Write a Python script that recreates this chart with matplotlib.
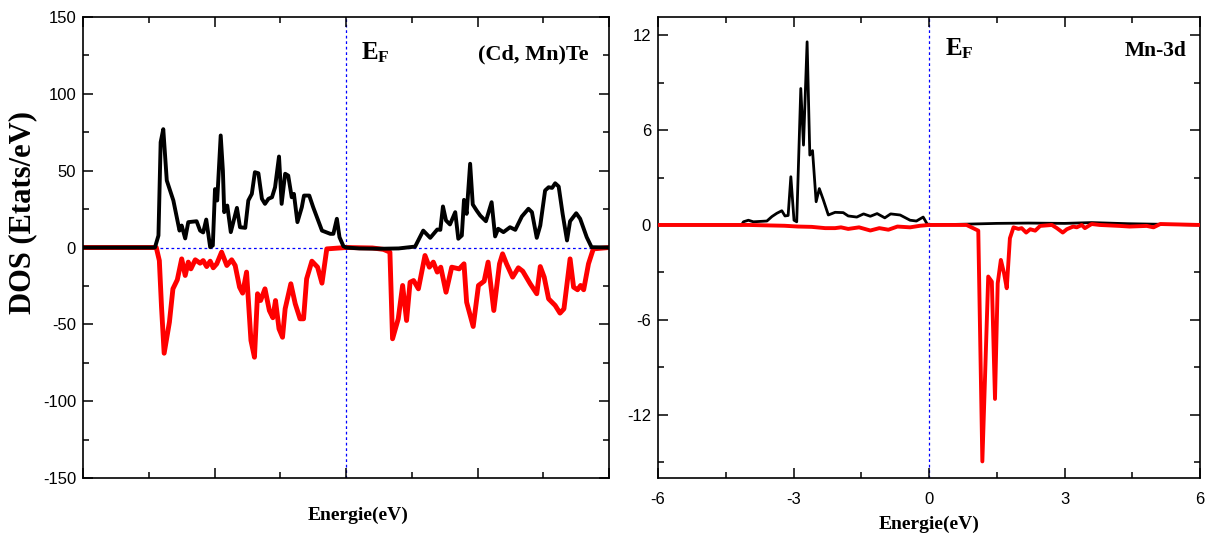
import matplotlib
matplotlib.use("Agg")
import matplotlib.pyplot as plt
from matplotlib.ticker import MultipleLocator, NullFormatter

plt.rcParams["font.family"] = ["Liberation Sans", "DejaVu Sans"]
plt.rcParams["axes.unicode_minus"] = False
plt.rcParams["mathtext.fontset"] = "custom"
plt.rcParams["mathtext.rm"] = "Liberation Serif:bold"
plt.rcParams["mathtext.bf"] = "Liberation Serif:bold"

# ---- total DOS of (Cd, Mn)Te ----
tot_up_e = [-6.0, -4.36, -4.28, -4.23, -4.17, -4.09, -3.94, -3.80, -3.75, -3.67, -3.60,
            -3.41, -3.33, -3.26, -3.19, -3.10, -3.04, -2.99, -2.94, -2.86, -2.81, -2.78,
            -2.71, -2.63, -2.49, -2.42, -2.30, -2.23, -2.15, -2.08, -2.00, -1.92, -1.85,
            -1.77, -1.69, -1.62, -1.53, -1.47, -1.39, -1.32, -1.24, -1.19, -1.11, -1.01,
            -0.96, -0.84, -0.75, -0.55, -0.36, -0.29, -0.21, -0.15, -0.06, 0.0,
            0.3, 0.8, 1.2, 1.575, 1.76, 1.92, 2.08, 2.15, 2.21, 2.28, 2.37, 2.49, 2.56,
            2.64, 2.69, 2.75, 2.83, 2.89, 2.98, 3.06, 3.19, 3.32, 3.40, 3.47, 3.59, 3.74,
            3.86, 4.01, 4.16, 4.24, 4.35, 4.43, 4.54, 4.62, 4.70, 4.77, 4.85, 4.94, 5.04,
            5.11, 5.25, 5.34, 5.49, 5.60, 6.0]
tot_up = [0.0, 0.0, 7.8, 68.5, 77.0, 43.6, 30.6, 11.0, 14.3, 5.9, 16.5,
          17.1, 11.0, 9.8, 18.2, 0.2, 1.3, 38.0, 30.6, 72.9, 50.0, 23.0,
          27.3, 10.0, 25.8, 13.2, 12.8, 30.6, 34.9, 49.0, 48.3, 31.7, 28.4,
          31.7, 32.7, 39.2, 59.2, 28.4, 48.0, 46.8, 32.7, 34.9, 16.5, 26.2,
          33.8, 33.8, 26.2, 11.0, 8.9, 8.9, 18.7, 6.7, 0.8, 0.0,
          -0.6, -0.8, -0.6, 0.6, 11.0, 6.3, 11.7, 11.5, 26.7, 17.6, 15.0, 23.0, 5.7,
          7.8, 31.0, 21.9, 54.5, 28.0, 24.0, 20.8, 17.1, 29.5, 7.2, 12.2, 10.0, 13.2,
          11.5, 20.2, 25.2, 23.0, 6.3, 14.3, 37.1, 39.2, 38.8, 41.8, 39.7, 21.9, 4.6,
          17.1, 22.3, 18.7, 6.7, 0.2, 0.0]

tot_dn_e = [-6.0, -4.33, -4.26, -4.21, -4.15, -4.03, -3.95, -3.85, -3.75, -3.67, -3.60,
            -3.54, -3.44, -3.33, -3.26, -3.18, -3.10, -3.03, -2.95, -2.84, -2.72, -2.61,
            -2.53, -2.43, -2.36, -2.27, -2.17, -2.09, -2.02, -1.95, -1.85, -1.75, -1.67,
            -1.61, -1.53, -1.45, -1.39, -1.26, -1.16, -1.05, -0.97, -0.90, -0.78, -0.65,
            -0.55, -0.44, 0.0, 0.6, 0.85, 1.00, 1.06, 1.19, 1.29, 1.38, 1.46, 1.54, 1.65,
            1.80, 1.90, 1.99, 2.08, 2.16, 2.28, 2.41, 2.58, 2.69, 2.75, 2.90, 3.02, 3.15,
            3.24, 3.37, 3.50, 3.57, 3.66, 3.80, 3.93, 4.03, 4.20, 4.35, 4.43, 4.52, 4.62,
            4.77, 4.88, 4.97, 5.11, 5.19, 5.28, 5.35, 5.42, 5.53, 5.64, 6.0]
tot_dn = [0.0, 0.0, -8.5, -38.8, -68.8, -48.6, -26.9, -21.0, -7.4, -18.2, -9.5,
          -13.9, -8.0, -10.2, -8.5, -12.4, -8.9, -13.2, -10.6, -3.0, -11.7, -8.0,
          -11.7, -25.8, -29.7, -16.0, -60.5, -71.4, -30.1, -34.5, -26.9, -41.0, -45.7,
          -34.5, -52.9, -58.4, -39.9, -23.6, -36.6, -46.4, -46.4, -20.4, -8.9, -12.8,
          -23.2, -0.9, 0.0, -0.3, -1.2, -3.0, -59.4, -46.4, -24.7, -47.5, -22.6, -21.5, -26.9,
          -5.2, -12.8, -9.5, -16.0, -12.8, -29.1, -12.8, -13.9, -10.6, -35.6, -51.4, -24.7, -21.9,
          -9.5, -41.0, -10.6, -4.1, -10.6, -19.3, -13.2, -15.4, -23.6, -30.1, -12.4, -19.3, -33.4,
          -37.7, -42.7, -39.9, -7.4, -25.8, -27.5, -24.7, -27.5, -10.6, -0.9, 0.0]

# ---- Mn-3d partial DOS ----
mn_up_e = [-6.0, -4.15, -4.11, -4.00, -3.89, -3.59, -3.48, -3.37, -3.26, -3.19, -3.12,
           -3.06, -2.99, -2.93, -2.84, -2.78, -2.70, -2.64, -2.58, -2.50, -2.43, -2.34,
           -2.23, -2.08, -1.90, -1.79, -1.60, -1.45, -1.30, -1.15, -0.98, -0.85, -0.64,
           -0.42, -0.28, -0.13, -0.05, 0.0, 0.8, 1.5, 2.2, 3.0, 3.6, 4.4, 5.0, 6.0]
mn_up = [0.0, 0.0, 0.2, 0.3, 0.2, 0.25, 0.53, 0.74, 0.9, 0.57, 0.6,
         3.05, 0.3, 0.2, 8.63, 5.05, 11.58, 4.42, 4.7, 1.47, 2.3, 1.58,
         0.63, 0.8, 0.78, 0.57, 0.5, 0.7, 0.55, 0.72, 0.45, 0.7, 0.63,
         0.3, 0.25, 0.5, 0.1, 0.0, 0.05, 0.1, 0.12, 0.1, 0.15, 0.08, 0.05, 0.0]

mn_dn_e = [-6.0, -4.0, -3.2, -2.9, -2.6, -2.3, -2.08, -1.95, -1.79, -1.55, -1.3, -1.1,
           -0.9, -0.7, -0.42, -0.2, 0.0, 0.83, 1.09, 1.18, 1.31, 1.39, 1.46, 1.52,
           1.59, 1.66, 1.72, 1.79, 1.87, 1.98, 2.05, 2.15, 2.24, 2.35, 2.46, 2.72,
           2.83, 2.96, 3.05, 3.19, 3.27, 3.38, 3.45, 3.60, 3.78, 4.22, 4.44, 4.82,
           4.97, 5.12, 6.0]
mn_dn = [0.0, 0.0, -0.05, -0.1, -0.12, -0.2, -0.2, -0.15, -0.25, -0.15, -0.35, -0.2,
         -0.3, -0.1, -0.15, -0.05, 0.0, 0.0, -0.36, -14.95, -3.26, -3.58, -11.0, -3.69,
         -2.21, -3.05, -4.0, -0.84, -0.15, -0.25, -0.2, -0.48, -0.27, -0.36, -0.06, 0.0,
         -0.2, -0.48, -0.27, -0.1, -0.15, 0.0, -0.2, 0.06, 0.0, -0.06, -0.1, -0.06,
         -0.15, 0.06, 0.0]

e_range = (-6, 6)
energy_ticks = [-6, -3, 0, 3, 6]

fig = plt.figure(figsize=(12.09, 5.38), dpi=100)
ax1 = fig.add_axes([0.0687, 0.1115, 0.4351, 0.8569])
ax2 = fig.add_axes([0.5443, 0.1115, 0.4483, 0.8569])

serif_bold = dict(family=["Liberation Serif", "DejaVu Serif"], weight="bold")
fermi_style = dict(color="blue", lw=0.9, linestyle=(0, (2.2, 2.2)))


def style_axes(ax):
    for sp in ax.spines.values():
        sp.set_linewidth(1.2)
    ax.tick_params(which="both", direction="in", top=True, right=True, width=1.1,
                   labelsize=12, pad=5)
    ax.tick_params(which="major", length=7)
    ax.tick_params(which="minor", length=4)
    ax.set_xlim(*e_range)
    ax.xaxis.set_major_locator(MultipleLocator(3))
    ax.xaxis.set_minor_locator(MultipleLocator(1.5))


# left panel: total DOS
ax1.axhline(0, **fermi_style, zorder=1)
ax1.axvline(0, **fermi_style, zorder=1)
ax1.plot(tot_dn_e, tot_dn, color="red", lw=3.5, solid_joinstyle="round", zorder=2)
ax1.plot(tot_up_e, tot_up, color="black", lw=2.8, solid_joinstyle="round", zorder=3)
style_axes(ax1)
ax1.set_ylim(-150, 150)
ax1.yaxis.set_major_locator(MultipleLocator(50))
ax1.yaxis.set_minor_locator(MultipleLocator(25))
ax1.xaxis.set_major_formatter(NullFormatter())
ax1.set_ylabel("DOS (Etats/eV)", fontsize=22, **serif_bold)
ax1.yaxis.set_label_coords(-0.087, 0.577)
ax1.set_xlabel("Energie(eV)", fontsize=14, **serif_bold)
ax1.xaxis.set_label_coords(0.523, -0.063)
ax1.text(0.528, 0.95, r"$\mathbf{E_F}$", transform=ax1.transAxes, fontsize=18,
         ha="left", va="top")
ax1.text(0.962, 0.94, "(Cd, Mn)Te", transform=ax1.transAxes, fontsize=16,
         ha="right", va="top", **serif_bold)

# right panel: Mn-3d
ax2.axvline(0, **fermi_style, zorder=1)
ax2.plot(mn_up_e, mn_up, color="black", lw=2.0, solid_joinstyle="round", zorder=2)
ax2.plot(mn_dn_e, mn_dn, color="red", lw=2.8, solid_joinstyle="round", zorder=3)
style_axes(ax2)
ax2.tick_params(axis="x", which="both", pad=10)
ax2.set_ylim(-16, 13.15)
ax2.yaxis.set_major_locator(MultipleLocator(6))
ax2.yaxis.set_minor_locator(MultipleLocator(3))
ax2.set_xticks(energy_ticks)
ax2.set_xlabel("Energie(eV)", fontsize=14, labelpad=6, **serif_bold)
ax2.text(0.53, 0.958, r"$\mathbf{E_F}$", transform=ax2.transAxes, fontsize=18,
         ha="left", va="top")
ax2.text(0.975, 0.947, "Mn-3d", transform=ax2.transAxes, fontsize=15.5,
         ha="right", va="top", **serif_bold)

fig.savefig("out.png", dpi=100)
